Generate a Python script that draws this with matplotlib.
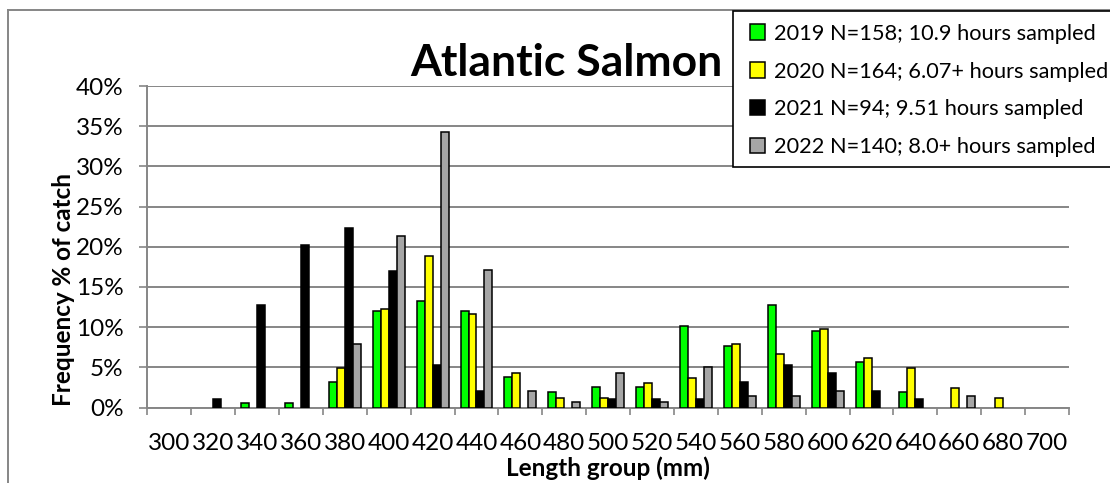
import numpy as np
import matplotlib
matplotlib.use('Agg')
import matplotlib.pyplot as plt
from matplotlib.lines import Line2D
from matplotlib.patches import Rectangle
from matplotlib.ticker import FuncFormatter

plt.rcParams['font.family'] = ['Lato', 'DejaVu Sans']

# Längenklassen (mm) und Anteile am Fang (%)
lengths = [300, 320, 340, 360, 380, 400, 420, 440, 460, 480, 500,
           520, 540, 560, 580, 600, 620, 640, 660, 680, 700]
y2019 = [0, 0, 0.6, 0.6, 3.2, 12.0, 13.3, 12.0, 3.8, 1.9, 2.5,
         2.5, 10.1, 7.6, 12.7, 9.5, 5.7, 1.9, 0, 0, 0]
y2020 = [0, 0, 0, 0, 4.9, 12.2, 18.9, 11.6, 4.3, 1.2, 1.2,
         3.0, 3.7, 7.9, 6.7, 9.8, 6.1, 4.9, 2.4, 1.2, 0]
y2021 = [0, 1.1, 12.8, 20.2, 22.3, 17.0, 5.3, 2.1, 0, 0, 1.1,
         1.1, 1.1, 3.2, 5.3, 4.3, 2.1, 1.1, 0, 0, 0]
y2022 = [0, 0, 0, 0, 7.9, 21.4, 34.3, 17.1, 2.1, 0.7, 4.3,
         0.7, 5.0, 1.4, 1.4, 2.1, 0, 0, 1.4, 0, 0]

series = [y2019, y2020, y2021, y2022]
labels = ['2019 N=158; 10.9 hours sampled',
          '2020 N=164; 6.07+ hours sampled',
          '2021 N=94; 9.51 hours sampled',
          '2022 N=140; 8.0+ hours sampled']
colors = ['#00ff00', '#ffff00', '#000000', '#a6a6a6']

grid_c = '#868686'

fig = plt.figure(figsize=(11.1, 4.83), dpi=100)
ax = fig.add_axes([0.1327, 0.1563, 0.8304, 0.6656])

n = len(lengths)
x = np.arange(n) + 0.5
w = 1 / 5.5
handles = []
for i, (vals, col, lab) in enumerate(zip(series, colors, labels)):
    v = np.array(vals, dtype=float) / 100
    v[v == 0] = np.nan
    b = ax.bar(x + (i - 1.5) * w, v, width=w, color=col, edgecolor='black',
               linewidth=1.1, label=lab, zorder=3)
    handles.append(b)

ax.set_xlim(0, n)
ax.set_ylim(0, 0.4)
ax.set_yticks(np.arange(0, 0.401, 0.05))
ax.yaxis.set_major_formatter(FuncFormatter(lambda v, p: f'{v*100:.0f}%'))
ax.grid(axis='y', color=grid_c, linewidth=1.4, zorder=0)
ax.tick_params(axis='y', length=6, width=1.2, color=grid_c, pad=11, labelsize=17.5)

ax.set_xticks(x)
ax.set_xticklabels([str(v) for v in lengths])
ax.set_xticks(np.arange(n + 1), minor=True)
ax.tick_params(axis='x', which='major', length=0, pad=18, labelsize=17.5)
ax.tick_params(axis='x', which='minor', length=5, width=1.2, color=grid_c)

for s in ['top', 'right']:
    ax.spines[s].set_visible(False)
for s in ['left', 'bottom']:
    ax.spines[s].set_color(grid_c)
    ax.spines[s].set_linewidth(1.4)

ax.set_xlabel('Length group (mm)', fontsize=17.5, fontweight='bold', labelpad=2)
ax.set_ylabel('Frequency % of catch', fontsize=17.5, fontweight='bold')
ax.yaxis.set_label_coords(-0.078, 0.366)

fig.text(566 / 1110, 1 - 63 / 483, 'Atlantic Salmon', fontsize=32,
         fontweight='bold', ha='center', va='center')

# Rahmen des Diagramms
fig.add_artist(Line2D([8 / 1110, 8 / 1110], [0, 1 - 10 / 483], color=grid_c, lw=1.4))
fig.add_artist(Line2D([8 / 1110, 1], [1 - 10 / 483, 1 - 10 / 483], color=grid_c, lw=1.4))

# Legende
fig.add_artist(Rectangle((733 / 1110, 1 - 167 / 483), 0.5, 156 / 483,
                         transform=fig.transFigure, fill=True, facecolor='white',
                         edgecolor='black', lw=1.2, zorder=5))
leg = fig.legend(handles=handles, loc='upper left',
                 bbox_to_anchor=(741 / 1110, 1 - 15 / 483), frameon=False,
                 fontsize=15.7, handlelength=0.7, handleheight=0.7,
                 handletextpad=0.4, labelspacing=0.82, borderaxespad=0)
leg.set_zorder(6)

fig.savefig('out.png', dpi=100)
